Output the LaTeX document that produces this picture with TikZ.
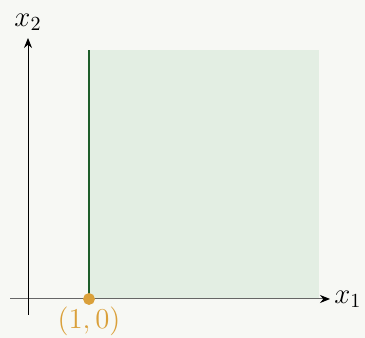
\documentclass[tikz,border=0pt]{standalone}
\usepackage{amsmath, amssymb}
\usepackage{tikz}
\usetikzlibrary{arrows.meta}

\definecolor{bgpaper}{RGB}{247,248,244}
\definecolor{regionfill}{RGB}{227,238,227}
\definecolor{edgegreen}{RGB}{30,94,42}
\definecolor{pointorange}{RGB}{218,160,58}

\begin{document}
\begin{tikzpicture}[x=0.5pt, y=0.5pt, >={Stealth[length=5pt, width=4pt, color=black]}]
        % Nền và khung
        \fill[bgpaper] (-28,-39) rectangle (337,299);
        \useasboundingbox (-28,-39) rectangle (337,299);

        % Miền khả thi
        \fill[regionfill] (61,0) rectangle (291,249);

        % Trục tọa độ
        \draw[->, black!60, line width=0.5pt] (-18,0) -- (302,0) coordinate (xend);
        \draw[->, black, line width=0.5pt] (0,-16) -- (0,261) coordinate (yend);
        \node[right, inner sep=2pt, font=\fontsize{14}{16}\selectfont] (xlab) at (xend) {$x_1$};
        \node[above, inner sep=3.5pt, font=\fontsize{14}{16}\selectfont] (ylab) at (yend) {$x_2$};

        % Biên x_1 = 1
        \draw[edgegreen, line width=1.2pt] (61,0) -- (61,249);

        % Điểm (1,0)
        \filldraw[pointorange] (61,0) circle (5.5);
        \node[below, pointorange, inner sep=1pt, font=\fontsize{14.5}{16}\selectfont] (pt) at (61,-6) {$(1,0)$};
      \end{tikzpicture}
\end{document}
